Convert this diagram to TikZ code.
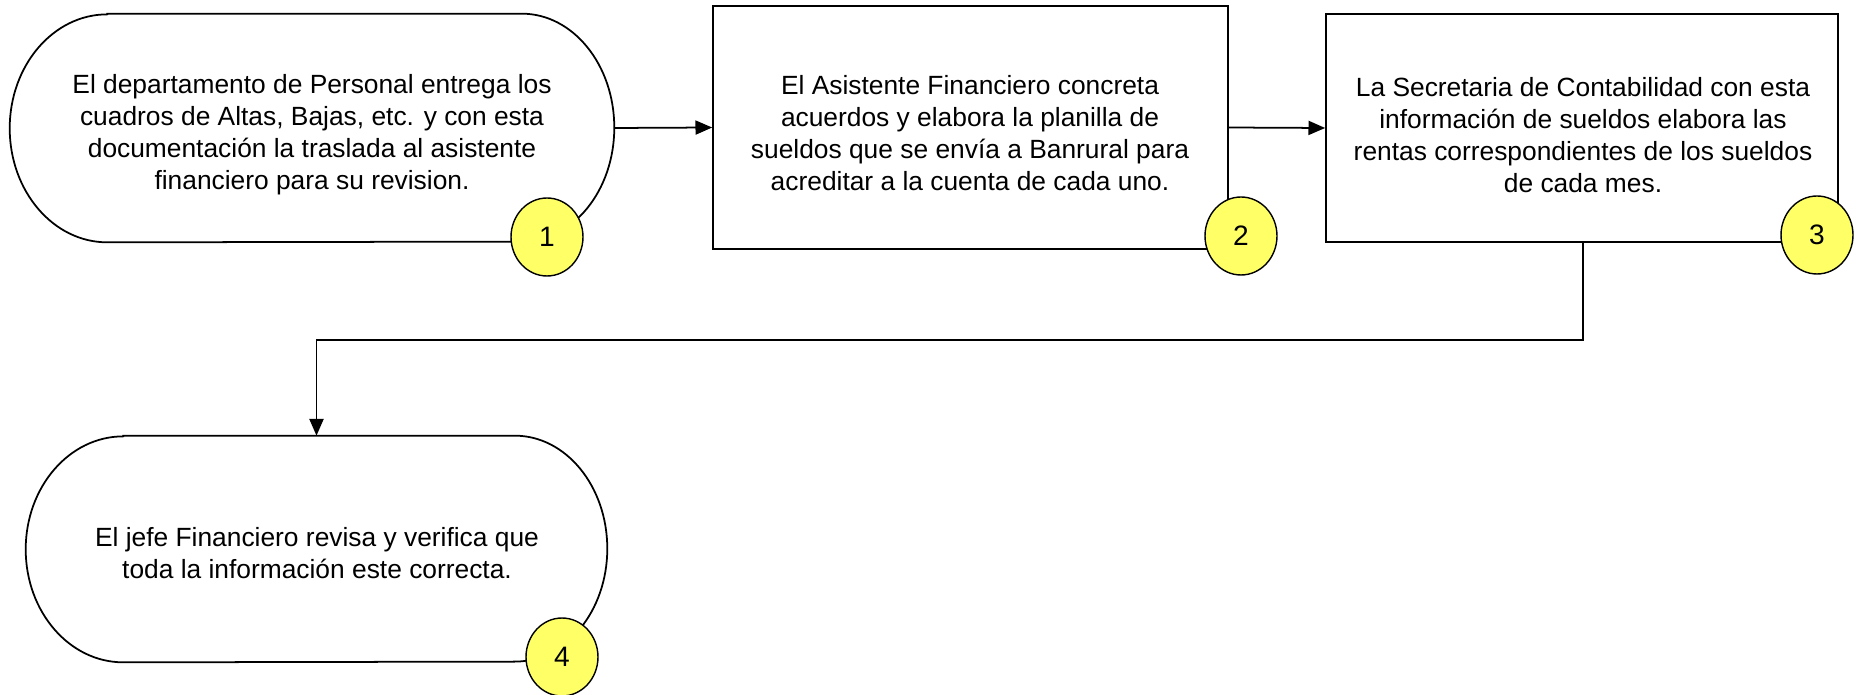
\documentclass[tikz,border=0pt]{standalone}
\usepackage{fontspec}
\setmainfont{Liberation Sans}
\usetikzlibrary{arrows.meta,shapes.geometric}
\definecolor{badgeyellow}{RGB}{255,255,102}
\tikzset{
  outline/.style={draw=black,line width=1pt},
  frame/.style={draw=none,inner sep=0pt},
  boxnode/.style={draw=black,line width=1pt,inner sep=0pt},
  txt/.style={align=center,inner sep=0pt,font=\fontsize{15}{18.2}\selectfont},
  badge/.style={ellipse,draw=black,line width=0.8pt,fill=badgeyellow,minimum width=1.44cm,minimum height=1.56cm,inner sep=0pt,font=\fontsize{16}{18}\selectfont},
  conn/.style={line width=1pt,-{Triangle[length=9.5pt,width=8pt]}},
  seg/.style={line width=1pt}
}
\begin{document}
\begin{tikzpicture}[x=0.02cm,y=-0.02cm]
\useasboundingbox (0,0) rectangle (1860,695);
% terminator 1
\node[frame,minimum width=12.08cm,minimum height=4.56cm] (t1) at (312,128) {};
\draw[outline] ([xshift=1.95cm]t1.north west) -- ([xshift=-1.85cm]t1.north east)
  arc[start angle=90,end angle=-90,x radius=1.85cm,y radius=2.28cm]
  -- ([xshift=1.95cm]t1.south west)
  arc[start angle=270,end angle=90,x radius=1.95cm,y radius=2.28cm] -- cycle;
\node[txt] (t1text) at (312,135) {El departamento de Personal entrega los\\cuadros de Altas, Bajas, etc. y con esta\\documentación la traslada al asistente\\financiero para su revision.};
% box 2
\node[boxnode,minimum width=10.3cm,minimum height=4.86cm] (b2) at (970.5,127.5) {};
\node[txt] (b2text) at (970,133) {El Asistente Financiero concreta\\acuerdos y elabora la planilla de\\sueldos que se envía a Banrural para\\acreditar a la cuenta de cada uno.};
% box 3
\node[boxnode,minimum width=10.24cm,minimum height=4.56cm] (b3) at (1582,128) {};
\node[txt] (b3text) at (1583,135) {La Secretaria de Contabilidad con esta\\información de sueldos elabora las\\rentas correspondientes de los sueldos\\de cada mes.};
% terminator 4
\node[frame,minimum width=11.62cm,minimum height=4.52cm] (t4) at (316.5,549) {};
\draw[outline] ([xshift=1.95cm]t4.north west) -- ([xshift=-1.85cm]t4.north east)
  arc[start angle=90,end angle=-90,x radius=1.85cm,y radius=2.26cm]
  -- ([xshift=1.95cm]t4.south west)
  arc[start angle=270,end angle=90,x radius=1.95cm,y radius=2.26cm] -- cycle;
\node[txt] (t4text) at (317,553) {El jefe Financiero revisa y verifica que\\toda la información este correcta.};
% badges
\node[badge] (n1) at (547,237) {1};
\node[badge] (n2) at (1241,236) {2};
\node[badge] (n3) at (1817,235) {3};
\node[badge] (n4) at (562,657) {4};
% connectors
\draw[conn] (t1.east) -- (b2.west);
\draw[conn] (b2.east) -- (b3.west);
\coordinate (bend1) at (1583,340);
\coordinate (bend2) at (316.5,340);
\draw[conn] (b3.south -| bend1) -- (bend1) -- (bend2) -- (t4.north);
\end{tikzpicture}
\end{document}
